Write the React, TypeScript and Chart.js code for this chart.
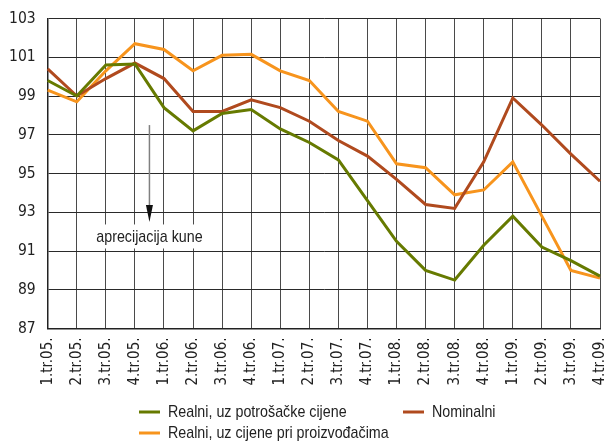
import React, { useEffect, useRef } from 'react';
import { Chart, registerables } from 'chart.js';

Chart.register(...registerables);

const categories = [
  '1.tr.05.', '2.tr.05.', '3.tr.05.', '4.tr.05.',
  '1.tr.06.', '2.tr.06.', '3.tr.06.', '4.tr.06.',
  '1.tr.07.', '2.tr.07.', '3.tr.07.', '4.tr.07.',
  '1.tr.08.', '2.tr.08.', '3.tr.08.', '4.tr.08.',
  '1.tr.09.', '2.tr.09.', '3.tr.09.', '4.tr.09.',
];

const realniPotrosacke = [99.8, 99.0, 100.6, 100.65, 98.4, 97.2, 98.1, 98.3, 97.3, 96.6, 95.7, 93.6, 91.5, 90.0, 89.5, 91.3, 92.8, 91.2, 90.5, 89.7];
const nominalni = [100.4, 99.0, 99.9, 100.7, 99.9, 98.2, 98.2, 98.8, 98.4, 97.7, 96.7, 95.9, 94.7, 93.4, 93.2, 95.6, 98.9, 97.5, 96.0, 94.6];
const realniProizvodaci = [99.3, 98.7, 100.3, 101.7, 101.4, 100.3, 101.1, 101.15, 100.3, 99.8, 98.2, 97.7, 95.5, 95.3, 93.9, 94.15, 95.6, 92.8, 90.0, 89.6];

const seriesLabels = ['Realni, uz potrošačke cijene', 'Nominalni', 'Realni, uz cijene pri proizvođačima'];
const seriesColors = ['#667a00', '#b04a1e', '#f7941d'];

const yMin = 87;
const yMax = 103;
const yStep = 2;

const annotationText = 'aprecijacija kune';
const arrowX = 3.5;
const arrowFrom = 97.5;
const arrowTo = 92.5;
const textY = 91.75;

const TICK_FONT = "'DejaVu Sans Condensed', 'Liberation Sans', sans-serif";
const TEXT_FONT = "'Liberation Sans', Arial, sans-serif";
const SQUEEZE = 0.84;

function drawCondensed(ctx: any, text: string, x: number, y: number, align: 'left' | 'center') {
  ctx.save();
  ctx.translate(x, y);
  ctx.scale(SQUEEZE, 1);
  ctx.textAlign = align;
  ctx.textBaseline = 'middle';
  ctx.fillText(text, 0, 0);
  ctx.restore();
}

const annotationPlugin = {
  id: 'annot',
  afterDraw(chart: any) {
    const { ctx } = chart;
    const xs = chart.scales.x;
    const ys = chart.scales.y;
    const x = xs.getPixelForValue(arrowX);
    const y1 = ys.getPixelForValue(arrowFrom);
    const y2 = ys.getPixelForValue(arrowTo);
    const ty = ys.getPixelForValue(textY);
    ctx.save();
    ctx.font = `17px ${TEXT_FONT}`;
    const w = ctx.measureText(annotationText).width * SQUEEZE;
    ctx.fillStyle = '#ffffff';
    ctx.fillRect(x - w / 2 - 3, ty - 12, w + 6, 24);
    ctx.fillStyle = '#222222';
    drawCondensed(ctx, annotationText, x, ty + 0.5, 'center');
    ctx.strokeStyle = '#808080';
    ctx.lineWidth = 1.5;
    ctx.beginPath();
    ctx.moveTo(x, y1);
    ctx.lineTo(x, y2 - 10);
    ctx.stroke();
    ctx.fillStyle = '#111111';
    ctx.beginPath();
    ctx.moveTo(x - 3.5, y2 - 17);
    ctx.lineTo(x + 3.5, y2 - 17);
    ctx.lineTo(x, y2);
    ctx.closePath();
    ctx.fill();
    ctx.restore();
  },
};

const legendPlugin = {
  id: 'customLegend',
  afterDraw(chart: any) {
    const { ctx } = chart;
    const positions = [
      { x: 139, y: 412 },
      { x: 403, y: 412 },
      { x: 139, y: 433 },
    ];
    ctx.save();
    ctx.font = `17px ${TEXT_FONT}`;
    chart.data.datasets.forEach((ds: any, i: number) => {
      const p = positions[i];
      ctx.strokeStyle = ds.borderColor;
      ctx.lineWidth = 3;
      ctx.beginPath();
      ctx.moveTo(p.x, p.y);
      ctx.lineTo(p.x + 21, p.y);
      ctx.stroke();
      ctx.fillStyle = '#222222';
      drawCondensed(ctx, ds.label, p.x + 29, p.y + 0.5, 'left');
    });
    ctx.restore();
  },
};

export default function App() {
  const ref = useRef<HTMLCanvasElement | null>(null);
  useEffect(() => {
    if (!ref.current) return;
    const data = [realniPotrosacke, nominalni, realniProizvodaci];
    const chart = new Chart(ref.current, {
      type: 'line',
      data: {
        labels: categories,
        datasets: data.map((d, i) => ({
          label: seriesLabels[i],
          data: d,
          borderColor: seriesColors[i],
          backgroundColor: seriesColors[i],
          borderWidth: 3,
          pointRadius: 0,
          tension: 0,
          fill: false,
        })),
      },
      options: {
        animation: false,
        responsive: false,
        devicePixelRatio: 1,
        layout: { padding: { top: 18.5, right: 7, left: 0, bottom: 0 } },
        plugins: {
          legend: { display: false },
          tooltip: { enabled: false },
        },
        scales: {
          x: {
            offset: false,
            grid: { color: '#4a4a4a', lineWidth: 1, drawTicks: false },
            border: { color: '#222222', width: 1.5 },
            ticks: {
              autoSkip: false,
              maxRotation: 90,
              minRotation: 90,
              padding: 9,
              color: '#222222',
              font: { family: TICK_FONT, size: 15 },
            },
            afterFit: (s: any) => {
              s.height = 112.5;
              s.paddingRight = 0;
              s.paddingLeft = 0;
            },
          },
          y: {
            min: yMin,
            max: yMax,
            grid: { color: '#2a2a2a', lineWidth: 1, drawTicks: false },
            border: { color: '#222222', width: 1.5 },
            ticks: {
              stepSize: yStep,
              padding: 12,
              color: '#222222',
              font: { family: TICK_FONT, size: 15.5 },
            },
            afterFit: (s: any) => {
              s.width = 47.7;
              s.paddingTop = 0;
              s.paddingBottom = 0;
            },
          },
        },
      },
      plugins: [annotationPlugin, legendPlugin],
    });
    return () => chart.destroy();
  }, []);
  return (
    <div style={{ position: 'fixed', left: 0, top: 0, width: 607, height: 441, background: '#fff' }}>
      <canvas ref={ref} width={607} height={441} style={{ width: 607, height: 441, display: 'block' }} />
    </div>
  );
}
